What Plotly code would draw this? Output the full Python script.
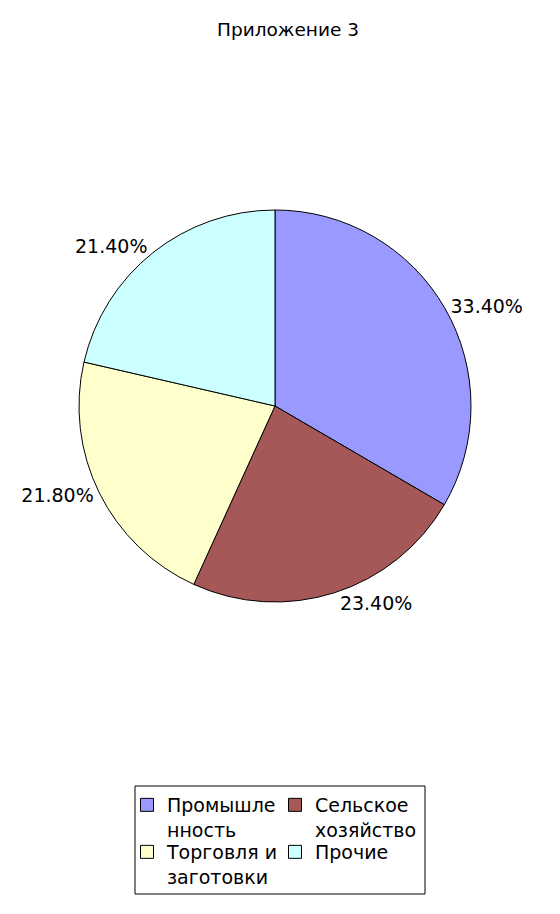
import plotly.graph_objects as go

categories = ["Промышле<br>нность", "Сельское<br>хозяйство", "Торговля и<br>заготовки", "Прочие"]
values = [33.4, 23.4, 21.8, 21.4]
colors = ["#9999ff", "#a65757", "#ffffcc", "#ccffff"]

W, H = 560, 914
FONT = "DejaVu Sans"

fig = go.Figure()
fig.add_trace(go.Pie(
    labels=categories,
    values=values,
    sort=False,
    direction="clockwise",
    rotation=0,
    marker=dict(colors=colors, line=dict(color="black", width=1)),
    textposition="outside",
    texttemplate="%{percent:.2%}",
    textfont=dict(family=FONT, size=19, color="black"),
    domain=dict(x=[71 / W, 463 / W], y=[1 - 594 / H, 1 - 202 / H]),
    hoverinfo="label+percent",
    showlegend=False,
))

# legend entries (2 x 2 grid, like the original)
for i, (name, col) in enumerate(zip(categories, colors)):
    fig.add_trace(go.Scatter(
        x=[None], y=[None], mode="markers", name=name,
        marker=dict(symbol="square", size=13, color=col, line=dict(color="black", width=1)),
        legend="legend" if i < 2 else "legend2",
        hoverinfo="skip",
    ))

leg_common = dict(
    orientation="h", x=119 / W, xanchor="left", yanchor="top",
    borderwidth=0, bgcolor="rgba(0,0,0,0)",
    entrywidth=103, entrywidthmode="pixels", valign="top",
    font=dict(family=FONT, size=19, color="black"),
    traceorder="normal", itemclick=False, itemdoubleclick=False,
)

fig.update_layout(
    width=W, height=H,
    margin=dict(l=0, r=0, t=0, b=0),
    paper_bgcolor="white",
    plot_bgcolor="white",
    font=dict(family=FONT, size=19, color="black"),
    title=dict(text="Приложение 3", x=0.5, xanchor="center", y=1 - 22 / H, yanchor="middle",
               yref="container", font=dict(family=FONT, size=18.5, color="black")),
    xaxis=dict(visible=False), yaxis=dict(visible=False),
    legend=dict(y=1 - 778 / H, **leg_common),
    legend2=dict(y=1 - 825 / H, **leg_common),
    shapes=[dict(type="rect", xref="paper", yref="paper",
                 x0=127 / W, x1=417 / W, y0=1 - 886 / H, y1=1 - 778 / H,
                 line=dict(color="black", width=1), fillcolor="rgba(0,0,0,0)", layer="below")],
    showlegend=True,
)

fig.write_html("out.html")
